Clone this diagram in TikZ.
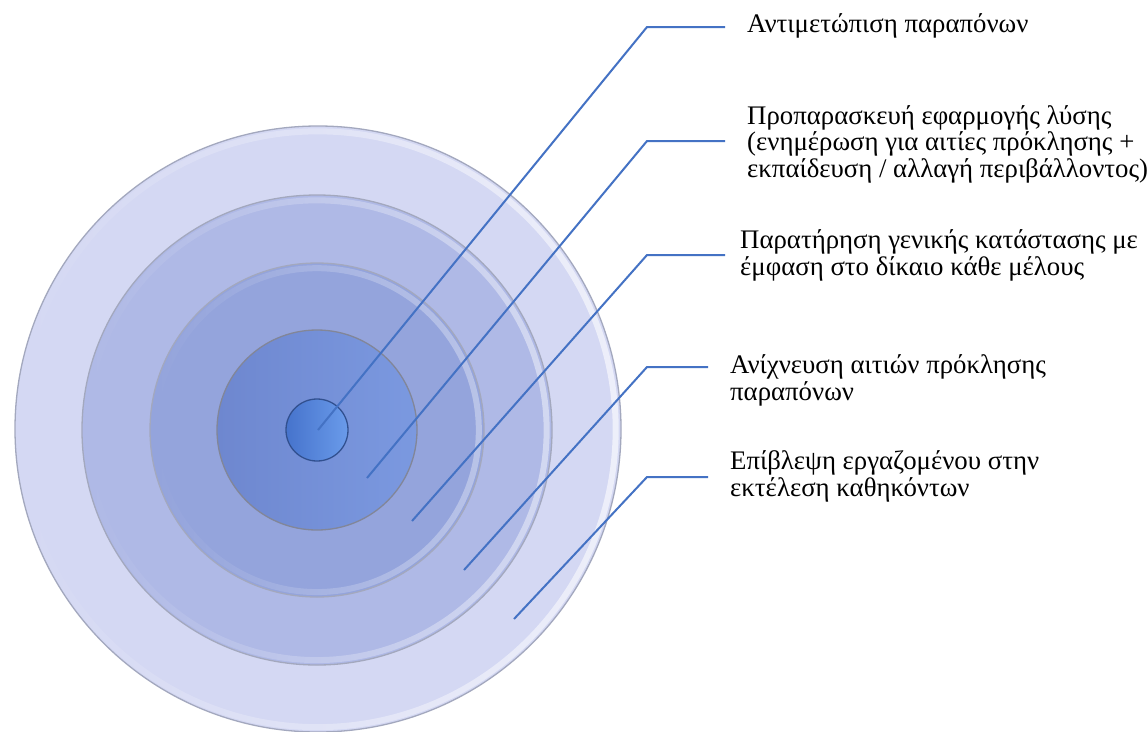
\documentclass[tikz,border=0pt]{standalone}
\usepackage{fontspec}
\setmainfont{Liberation Serif}[Script=Greek]
\usetikzlibrary{fadings}
\definecolor{ringA}{HTML}{D4D8F3}
\definecolor{ringB}{HTML}{AFB9E6}
\definecolor{ringC}{HTML}{94A4DC}
\definecolor{ringD}{HTML}{6E87CF}
\definecolor{ringDl}{HTML}{7B99E0}
\definecolor{dotA}{HTML}{4673CC}
\definecolor{dotB}{HTML}{6A9BEA}
\definecolor{rimgray}{HTML}{A3A8BE}
\definecolor{linkblue}{HTML}{4472C4}
\tikzset{
  disc/.style={draw=rimgray, line width=1.3pt},
  glint/.style={draw=white, draw opacity=0.6, line width=6pt, path fading=west},
  link/.style={draw=linkblue, line width=2pt, line join=miter},
  lab/.style={font=\fontsize{26.8}{26.75}\selectfont, align=left, inner sep=0pt, anchor=base west, text=black}
}
\begin{document}
\begin{tikzpicture}[x=1pt,y=-1pt]
\useasboundingbox (0,0) rectangle (1147,731);
\fill[white] (0,0) rectangle (1147,731);
% concentric discs
\coordinate (c) at (317,430);
\coordinate (c0) at (318,429);
\filldraw[disc, fill=ringA] (c0) circle[radius=303];
\draw[glint] (c0) circle[radius=298];
\filldraw[disc, fill=ringB] (c) circle[radius=235];
\draw[glint, draw opacity=0.45] (c) circle[radius=230];
\filldraw[disc, fill=ringC] (c) circle[radius=167];
\draw[glint, draw opacity=0.35] (c) circle[radius=162];
\shadedraw[disc, draw=rimgray!80!black, left color=ringD, right color=ringDl] (c) circle[radius=100];
\shadedraw[disc, draw=dotA!70!black, left color=dotA, right color=dotB] (c) circle[radius=31];
% labels
\node[lab] (t1) at (747,32) {Αντιμετώπιση παραπόνων};
\node[lab] (t2) at (747,177.5) {Προπαρασκευή εφαρμογής λύσης\\(ενημέρωση για αιτίες πρόκλησης +\\εκπαίδευση / αλλαγή περιβάλλοντος)};
\node[lab] (t3) at (740,275) {Παρατήρηση γενικής κατάστασης με\\έμφαση στο δίκαιο κάθε μέλους};
\node[lab] (t4) at (730,400) {Ανίχνευση αιτιών πρόκλησης\\παραπόνων};
\node[lab] (t5) at (730,496) {Επίβλεψη εργαζομένου στην\\εκτέλεση καθηκόντων};
% connector points
\coordinate (s1) at (318,430); \coordinate (k1) at (647,27);  \coordinate (e1) at (725,27);
\coordinate (s2) at (367,478); \coordinate (k2) at (647,141); \coordinate (e2) at (725,141);
\coordinate (s3) at (412,521); \coordinate (k3) at (647,255); \coordinate (e3) at (725,255);
\coordinate (s4) at (464,570); \coordinate (k4) at (647,367); \coordinate (e4) at (708,367);
\coordinate (s5) at (514,619); \coordinate (k5) at (647,477); \coordinate (e5) at (708,477);
\foreach \i in {1,...,5} \draw[link] (s\i) -- (k\i) -- (e\i);
\end{tikzpicture}
\end{document}
